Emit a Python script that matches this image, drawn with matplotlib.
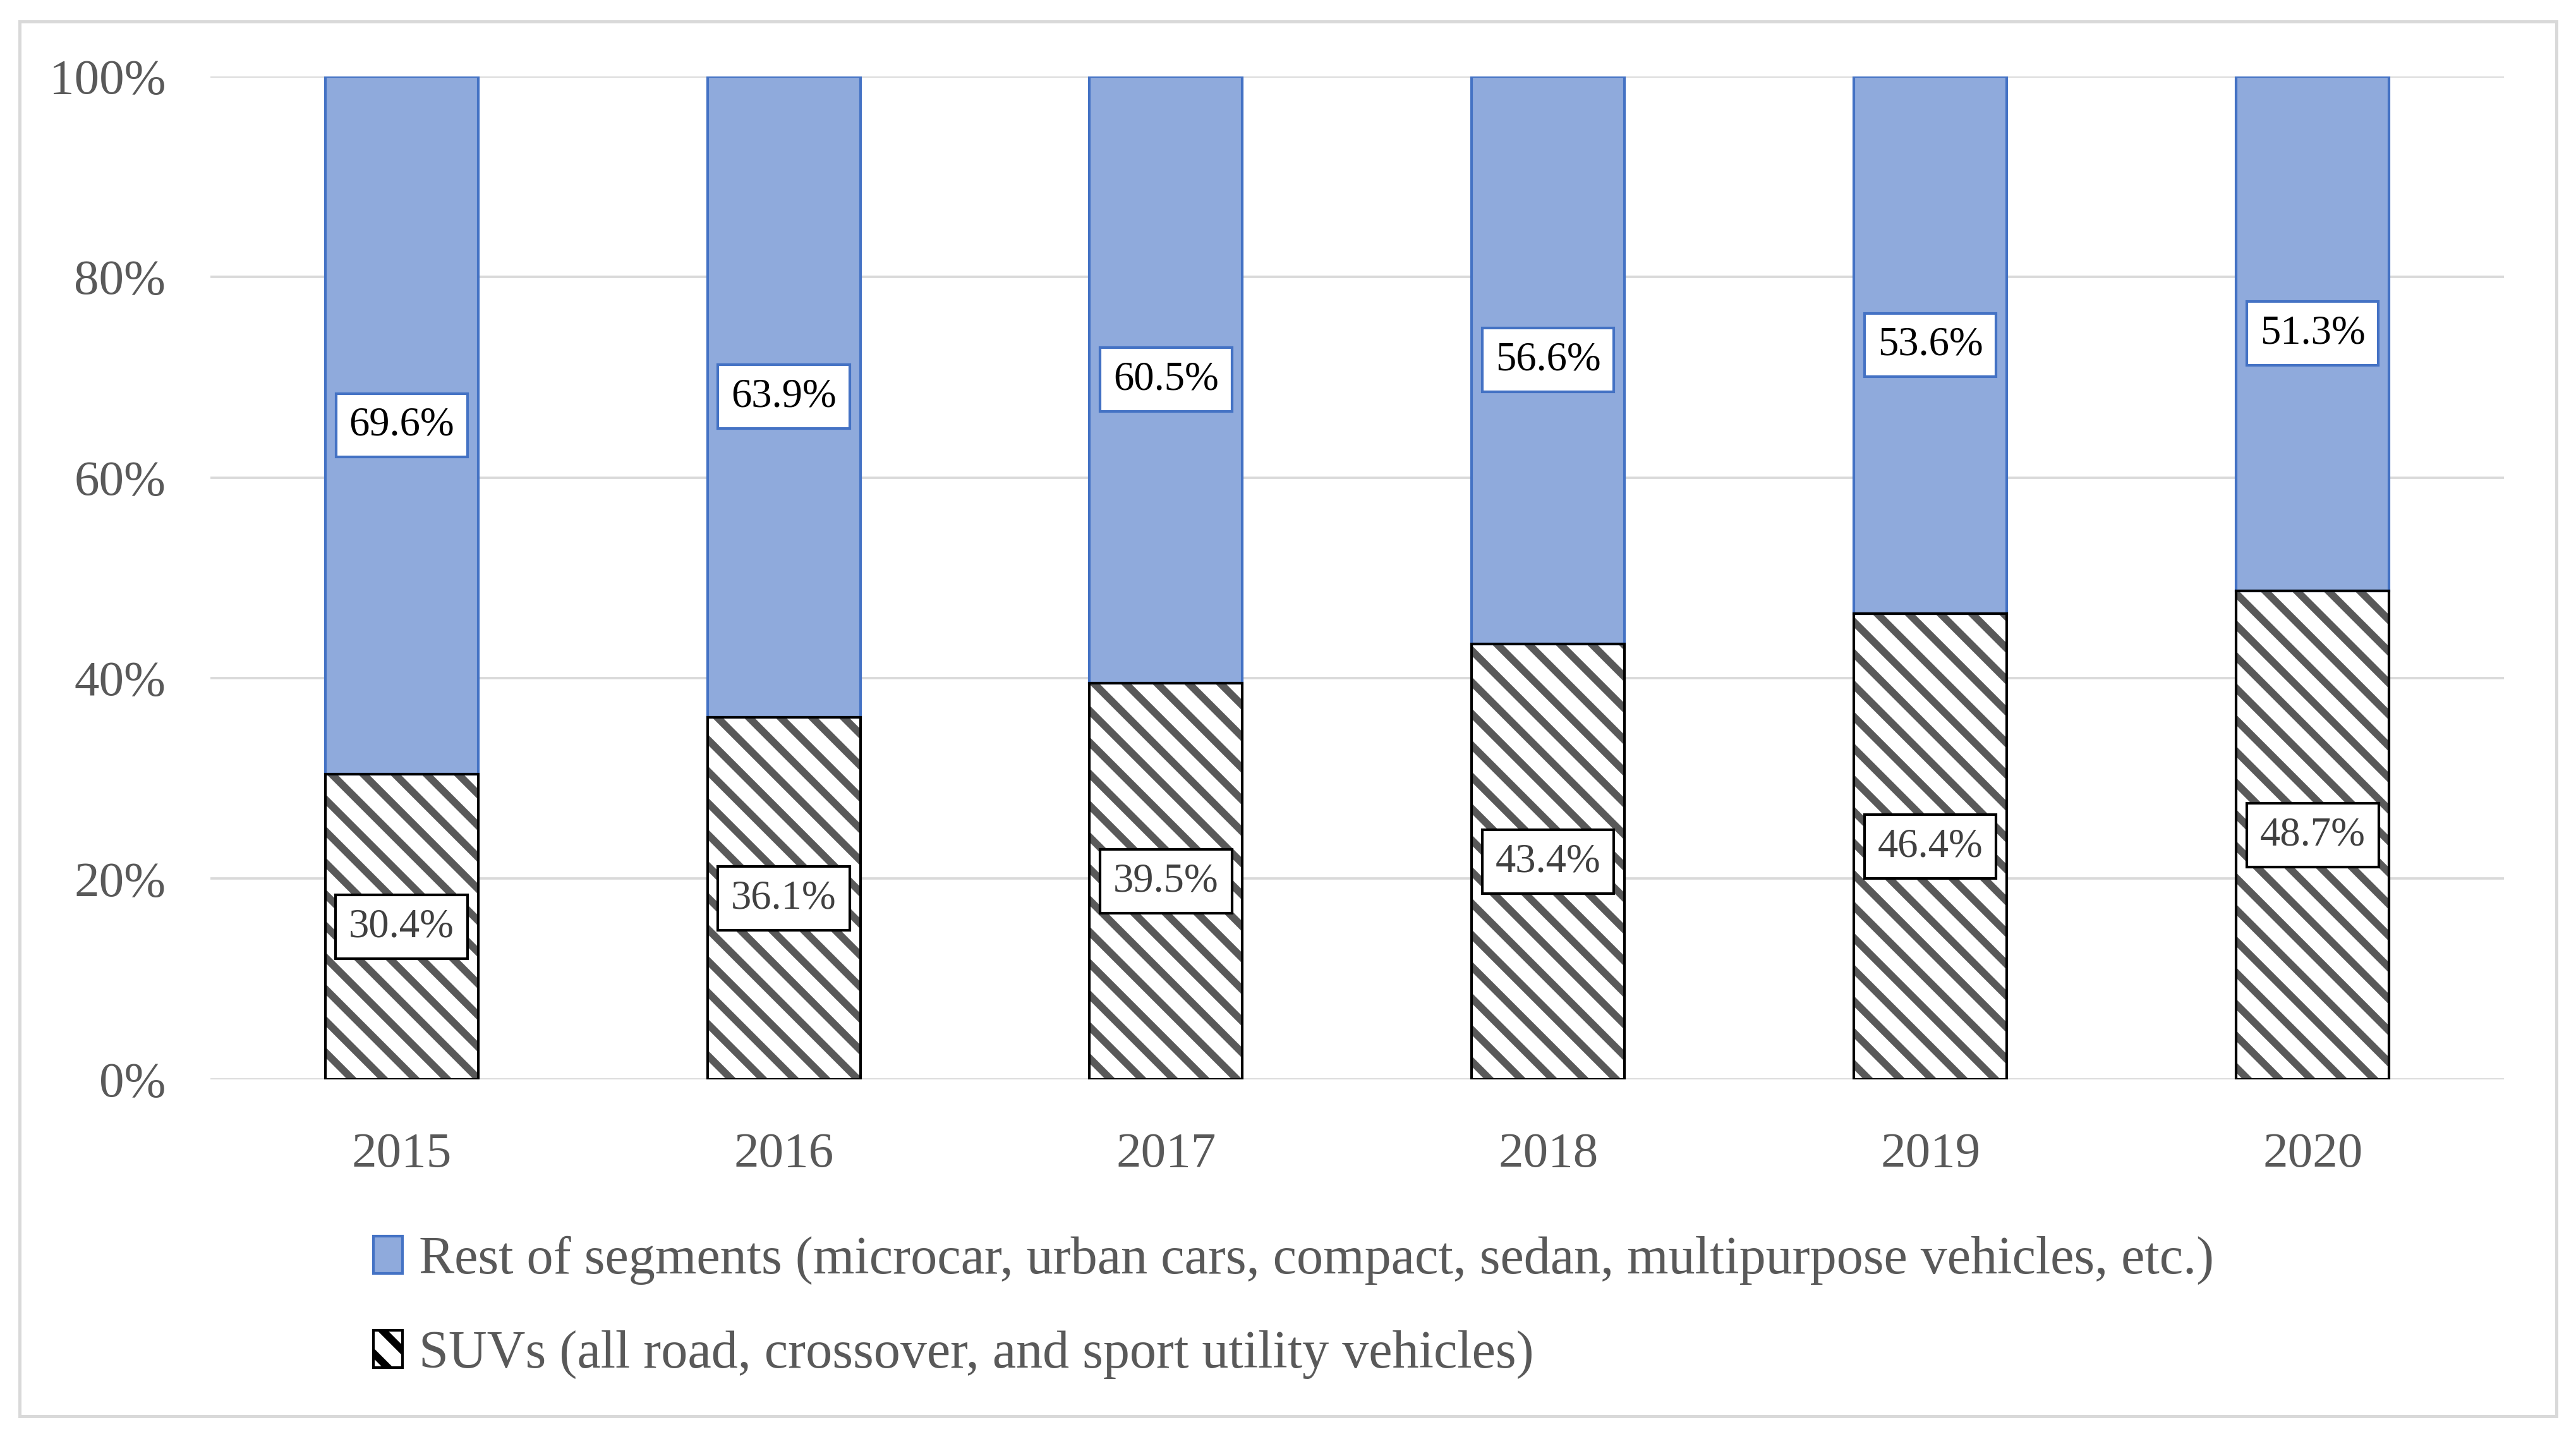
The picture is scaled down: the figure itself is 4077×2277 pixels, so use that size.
import matplotlib.pyplot as plt
import numpy as np
from matplotlib.patches import Rectangle

# data
years = ['2015', '2016', '2017', '2018', '2019', '2020']
suv_share = [30.4, 36.1, 39.5, 43.4, 46.4, 48.7]
rest_share = [69.6, 63.9, 60.5, 56.6, 53.6, 51.3]
rest_label = 'Rest of segments (microcar, urban cars, compact, sedan, multipurpose vehicles, etc.)'
suv_label = 'SUVs (all road, crossover, and sport utility vehicles)'

plt.rcParams['font.family'] = ['Liberation Serif', 'DejaVu Serif']
plt.rcParams['hatch.linewidth'] = 2.8

fig = plt.figure(figsize=(4077 / 300, 2277 / 300), dpi=300)
ax = fig.add_axes([0.0817, 0.25, 0.972 - 0.0817, 0.697])

# light gray frame around the whole chart
fig.patches.append(Rectangle((0.0077, 0.016), 0.9846, 0.969, transform=fig.transFigure,
                             fill=False, edgecolor='#D9D9D9', linewidth=1.2))

x = np.arange(len(years))
w = 0.40
suv = np.array(suv_share) / 100
rest = np.array(rest_share) / 100

# hatched SUV bars: hatch drawn in gray, then a black outline on top
ax.bar(x, suv, w, color='white', edgecolor='#595959', hatch='\\\\', linewidth=0, zorder=2)
ax.bar(x, suv, w, fill=False, edgecolor='black', linewidth=1.0, zorder=3)
ax.bar(x, rest, w, bottom=suv, color='#8FAADC', edgecolor='#4472C4', linewidth=1.0, zorder=2)

for i in range(len(years)):
    ax.text(x[i], suv[i] / 2, f'{suv_share[i]:.1f}%', ha='center', va='center',
            fontsize=15.5, color='#404040', zorder=5,
            bbox=dict(boxstyle='square,pad=0.32', facecolor='white', edgecolor='black', linewidth=1.0))
    ax.text(x[i], suv[i] + rest[i] / 2, f'{rest_share[i]:.1f}%', ha='center', va='center',
            fontsize=15.5, color='black', zorder=5,
            bbox=dict(boxstyle='square,pad=0.32', facecolor='white', edgecolor='#4472C4', linewidth=1.0))

ax.set_xlim(-0.5, 5.5)
ax.set_ylim(0, 1)
ax.set_yticks(np.arange(0, 1.01, 0.2))
ax.set_yticklabels([f'{int(v * 100)}%' for v in np.arange(0, 1.01, 0.2)])
ax.set_xticks(x)
ax.set_xticklabels(years)
ax.tick_params(axis='both', length=0, labelsize=19, colors='#595959')
ax.tick_params(axis='y', pad=17)
ax.tick_params(axis='x', pad=20)
for s in ax.spines.values():
    s.set_visible(False)
ax.grid(axis='y', color='#D9D9D9', linewidth=0.9, zorder=0)
ax.set_axisbelow(True)

# legend handles
h_rest = Rectangle((0, 0), 1, 1, facecolor='#8FAADC', edgecolor='#4472C4', linewidth=1.0)
h_suv = Rectangle((0, 0), 1, 1, facecolor='white', edgecolor='black', hatch='\\\\', linewidth=1.0)
fig.legend([h_rest, h_suv], [rest_label, suv_label], loc='center left',
           bbox_to_anchor=(0.145, 0.0915), frameon=False, fontsize=20.2,
           labelcolor='#595959', handlelength=0.55, handleheight=0.7,
           handletextpad=0.3, labelspacing=0.85, borderpad=0, borderaxespad=0)

fig.savefig('out.png', dpi=300, facecolor='white')
